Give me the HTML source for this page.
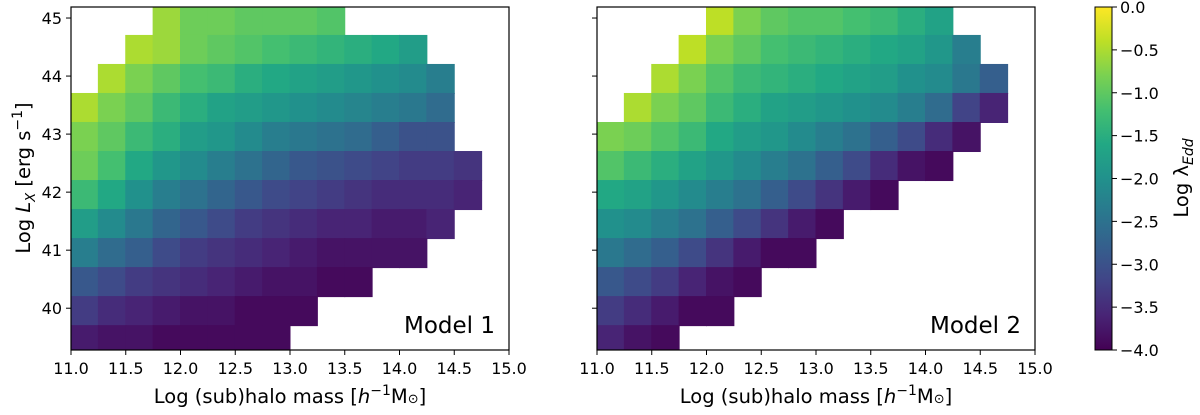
<!DOCTYPE html>
<html><head><meta charset="utf-8"><style>
html,body{margin:0;padding:0;background:#fff;}
svg{display:block;font-family:"DejaVu Sans","Liberation Sans",sans-serif;}
</style></head><body>
<svg id="chart" width="1200" height="415" viewBox="0 0 1200 415" xmlns="http://www.w3.org/2000/svg">
<defs>
<linearGradient id="viridis" x1="0" y1="1" x2="0" y2="0">
<stop offset="0" stop-color="#440154"/><stop offset="0.1" stop-color="#482475"/><stop offset="0.2" stop-color="#414487"/><stop offset="0.3" stop-color="#355f8d"/><stop offset="0.4" stop-color="#2a788e"/><stop offset="0.5" stop-color="#21918c"/><stop offset="0.6" stop-color="#22a884"/><stop offset="0.7" stop-color="#44bf70"/><stop offset="0.8" stop-color="#7ad151"/><stop offset="0.9" stop-color="#bddf26"/><stop offset="1" stop-color="#fde725"/>
</linearGradient>
<clipPath id="clip1"><rect x="71" y="7" width="438" height="343"/></clipPath>
<clipPath id="clip2"><rect x="597" y="7" width="438" height="343"/></clipPath>
</defs>
</svg>
<script>
// x bins (log halo mass centers), y bins (log Lx centers), top to bottom
const massBins = [11.125,11.375,11.625,11.875,12.125,12.375,12.625,12.875,13.125,13.375,13.625,13.875,14.125,14.375,14.625,14.875];
const lxBins = [44.95,44.45,43.95,43.45,42.95,42.45,41.95,41.45,40.95,40.45,39.95,39.45];
const n = null;
const model1Lambda = [
[n,n,n,-0.6,-0.9,-0.9,-1.0,-1.0,-1.0,-1.1,n,n,n,n,n,n],
[n,n,-0.5,-0.6,-0.9,-1.0,-1.1,-1.2,-1.3,-1.4,-1.5,-1.6,-1.8,n,n,n],
[n,-0.5,-0.8,-1.0,-1.2,-1.3,-1.5,-1.6,-1.7,-1.8,-1.9,-2.0,-2.1,-2.3,n,n],
[-0.5,-0.8,-1.0,-1.3,-1.5,-1.7,-1.8,-1.9,-2.0,-2.1,-2.2,-2.3,-2.4,-2.6,n,n],
[-0.8,-1.0,-1.3,-1.5,-1.8,-1.9,-2.1,-2.3,-2.4,-2.5,-2.6,-2.8,-3.0,-3.0,n,n],
[-0.9,-1.2,-1.6,-1.9,-2.1,-2.3,-2.5,-2.7,-2.9,-3.0,-3.1,-3.2,-3.3,-3.3,-3.4,n],
[-1.3,-1.6,-2.0,-2.3,-2.5,-2.7,-2.9,-3.1,-3.2,-3.3,-3.4,-3.5,-3.5,-3.5,-3.6,n],
[-1.8,-2.1,-2.4,-2.7,-2.9,-3.1,-3.3,-3.4,-3.5,-3.6,-3.6,-3.7,-3.7,-3.6,n,n],
[-2.3,-2.6,-2.8,-3.1,-3.3,-3.4,-3.5,-3.6,-3.7,-3.8,-3.8,-3.8,-3.8,n,n,n],
[-2.9,-3.1,-3.3,-3.4,-3.5,-3.6,-3.7,-3.8,-3.8,-3.9,-3.9,n,n,n,n,n],
[-3.3,-3.5,-3.6,-3.7,-3.8,-3.8,-3.9,-3.9,-3.9,n,n,n,n,n,n,n],
[-3.7,-3.8,-3.8,-3.9,-3.9,-3.9,-3.9,-3.9,n,n,n,n,n,n,n,n]
];
const model2Lambda = [
[n,n,n,n,-0.4,-0.8,-1.0,-1.1,-1.1,-1.2,-1.3,-1.5,-1.7,n,n,n],
[n,n,n,-0.4,-0.8,-1.0,-1.2,-1.3,-1.4,-1.5,-1.6,-1.7,-1.9,-2.3,n,n],
[n,n,-0.5,-0.8,-1.1,-1.3,-1.4,-1.5,-1.6,-1.7,-1.8,-2.0,-2.1,-2.4,-2.8,n],
[n,-0.5,-0.8,-1.0,-1.3,-1.5,-1.7,-1.8,-1.9,-2.0,-2.1,-2.3,-2.6,-3.2,-3.6,n],
[-0.8,-0.9,-1.1,-1.3,-1.6,-1.8,-1.9,-2.1,-2.3,-2.5,-2.8,-3.1,-3.5,-3.8,n,n],
[-1.1,-1.3,-1.5,-1.7,-1.9,-2.1,-2.3,-2.5,-2.8,-3.1,-3.5,-3.8,-3.9,n,n,n],
[-1.6,-1.7,-1.9,-2.1,-2.3,-2.5,-2.8,-3.1,-3.4,-3.7,-3.9,n,n,n,n,n],
[-2.0,-2.1,-2.3,-2.5,-2.8,-3.1,-3.4,-3.7,-3.9,n,n,n,n,n,n,n],
[-2.4,-2.6,-2.8,-3.1,-3.4,-3.7,-3.9,-3.9,n,n,n,n,n,n,n,n],
[-2.9,-3.1,-3.3,-3.6,-3.8,-3.9,n,n,n,n,n,n,n,n,n,n],
[-3.3,-3.5,-3.7,-3.9,-3.9,n,n,n,n,n,n,n,n,n,n,n],
[-3.6,-3.8,-3.9,n,n,n,n,n,n,n,n,n,n,n,n,n]
];
const xTicks = [11.0,11.5,12.0,12.5,13.0,13.5,14.0,14.5,15.0];
const yTicks = [40,41,42,43,44,45];
const cbTicks = [0.0,-0.5,-1.0,-1.5,-2.0,-2.5,-3.0,-3.5,-4.0];

const NS = "http://www.w3.org/2000/svg";
const svg = document.getElementById('chart');
const PT = 7, PB = 350, XMIN = 11, XMAX = 15, YMIN = 39.28, YMAX = 45.19;
const yScale = v => PB - (v - YMIN) / (YMAX - YMIN) * (PB - PT);
const viridis = ["#440154","#482475","#414487","#355f8d","#2a788e","#21918c","#22a884","#44bf70","#7ad151","#bddf26","#fde725"];
function hex(c){return [1,3,5].map(i=>parseInt(c.substr(i,2),16));}
function cmap(v){
  let t = Math.max(0, Math.min(1, (v + 4) / 4)) * 10;
  let i = Math.min(9, Math.floor(t)), f = t - i;
  const a = hex(viridis[i]), b = hex(viridis[i+1]);
  return 'rgb(' + a.map((c,k)=>Math.round(c + (b[k]-c)*f)).join(',') + ')';
}
function mk(tag, attrs, parent){
  const e = document.createElementNS(NS, tag);
  for (const k in attrs) e.setAttribute(k, attrs[k]);
  (parent || svg).appendChild(e);
  return e;
}
function fmt(v){return (v<0?'\u2212':'') + Math.abs(v).toFixed(1);}

function panel(x0, x1, data, clipId, label, name, showY){
  const xScale = v => x0 + (v - XMIN) / (XMAX - XMIN) * (x1 - x0);
  const g = mk('g', {'clip-path': 'url(#' + clipId + ')'});
  
  
  const dx = 0.125, dy = 0.25;
  data.forEach((row, r) => row.forEach((v, c) => {
    if (v === null) return;
    const xa = xScale(massBins[c] - dx), xb = xScale(massBins[c] + dx);
    const ya = yScale(lxBins[r] + dy), yb = yScale(lxBins[r] - dy);
    const cell = mk('rect', {x: xa - 0.5, y: ya - 0.5, width: xb - xa + 1, height: yb - ya + 1, fill: cmap(v)}, g);
    
    
  }));
  const frame = mk('rect', {x: x0, y: PT, width: x1 - x0, height: PB - PT, fill: 'none', stroke: '#000', 'stroke-width': 1.2});
  
  
  xTicks.forEach(t => {
    const x = xScale(t);
    mk('line', {x1: x, x2: x, y1: PB, y2: PB + 5, stroke: '#000', 'stroke-width': 1});
    const tx = mk('text', {x: x, y: PB + 24, 'font-size': 16, 'text-anchor': 'middle', fill: '#000'});
    tx.textContent = t.toFixed(1);
    
    
  });
  yTicks.forEach(t => {
    const y = yScale(t);
    mk('line', {x1: x0, x2: x0 - 5, y1: y, y2: y, stroke: '#000', 'stroke-width': 1});
    if (showY) {
      const ty = mk('text', {x: x0 - 9, y: y + 6, 'font-size': 16, 'text-anchor': 'end', fill: '#000'});
      ty.textContent = String(t);
      
      
    }
  });
  const xl = mk('text', {x: (x0 + x1) / 2, y: 403, 'font-size': 19.5, 'text-anchor': 'middle', fill: '#000'});
  xl.innerHTML = 'Log (sub)halo mass [<tspan font-style="italic">h</tspan><tspan dy="-8" font-size="14">\u22121</tspan><tspan dy="8">M</tspan><tspan font-size="13">\u2299</tspan>]';
  
  
  const ml = mk('text', {x: x1 - 14, y: 333, 'font-size': 23, 'text-anchor': 'end', fill: '#000'});
  ml.textContent = label;
  
  
}
panel(71, 509, model1Lambda, 'clip1', 'Model 1', 'model-1-panel', true);
panel(597, 1035, model2Lambda, 'clip2', 'Model 2', 'model-2-panel', false);

const yl = mk('text', {x: 0, y: 0, 'font-size': 19.5, 'text-anchor': 'middle', fill: '#000', transform: 'translate(30,178) rotate(-90)'});
yl.innerHTML = 'Log <tspan font-style="italic">L</tspan><tspan font-style="italic" font-size="13" dy="5">X</tspan><tspan dy="-5"> [erg s</tspan><tspan dy="-8" font-size="14">\u22121</tspan><tspan dy="8">]</tspan>';



// colorbar
const CB0 = 1095, CB1 = 1112;
const cbScale = v => PT + (0 - v) / 4 * (PB - PT);
const cb = mk('rect', {x: CB0, y: PT, width: CB1 - CB0, height: PB - PT, fill: 'url(#viridis)', stroke: '#000', 'stroke-width': 1});


cbTicks.forEach(t => {
  const y = cbScale(t);
  mk('line', {x1: CB1, x2: CB1 + 5, y1: y, y2: y, stroke: '#000', 'stroke-width': 1});
  const tt = mk('text', {x: CB1 + 8, y: y + 6, 'font-size': 16, fill: '#000'});
  tt.textContent = fmt(t);
  
  
});
const cl = mk('text', {x: 0, y: 0, 'font-size': 19.5, 'text-anchor': 'middle', fill: '#000', transform: 'translate(1188,178) rotate(-90)'});
cl.innerHTML = 'Log \u03bb<tspan font-style="italic" font-size="14" dy="5">Edd</tspan>';


</script>
</body></html>
